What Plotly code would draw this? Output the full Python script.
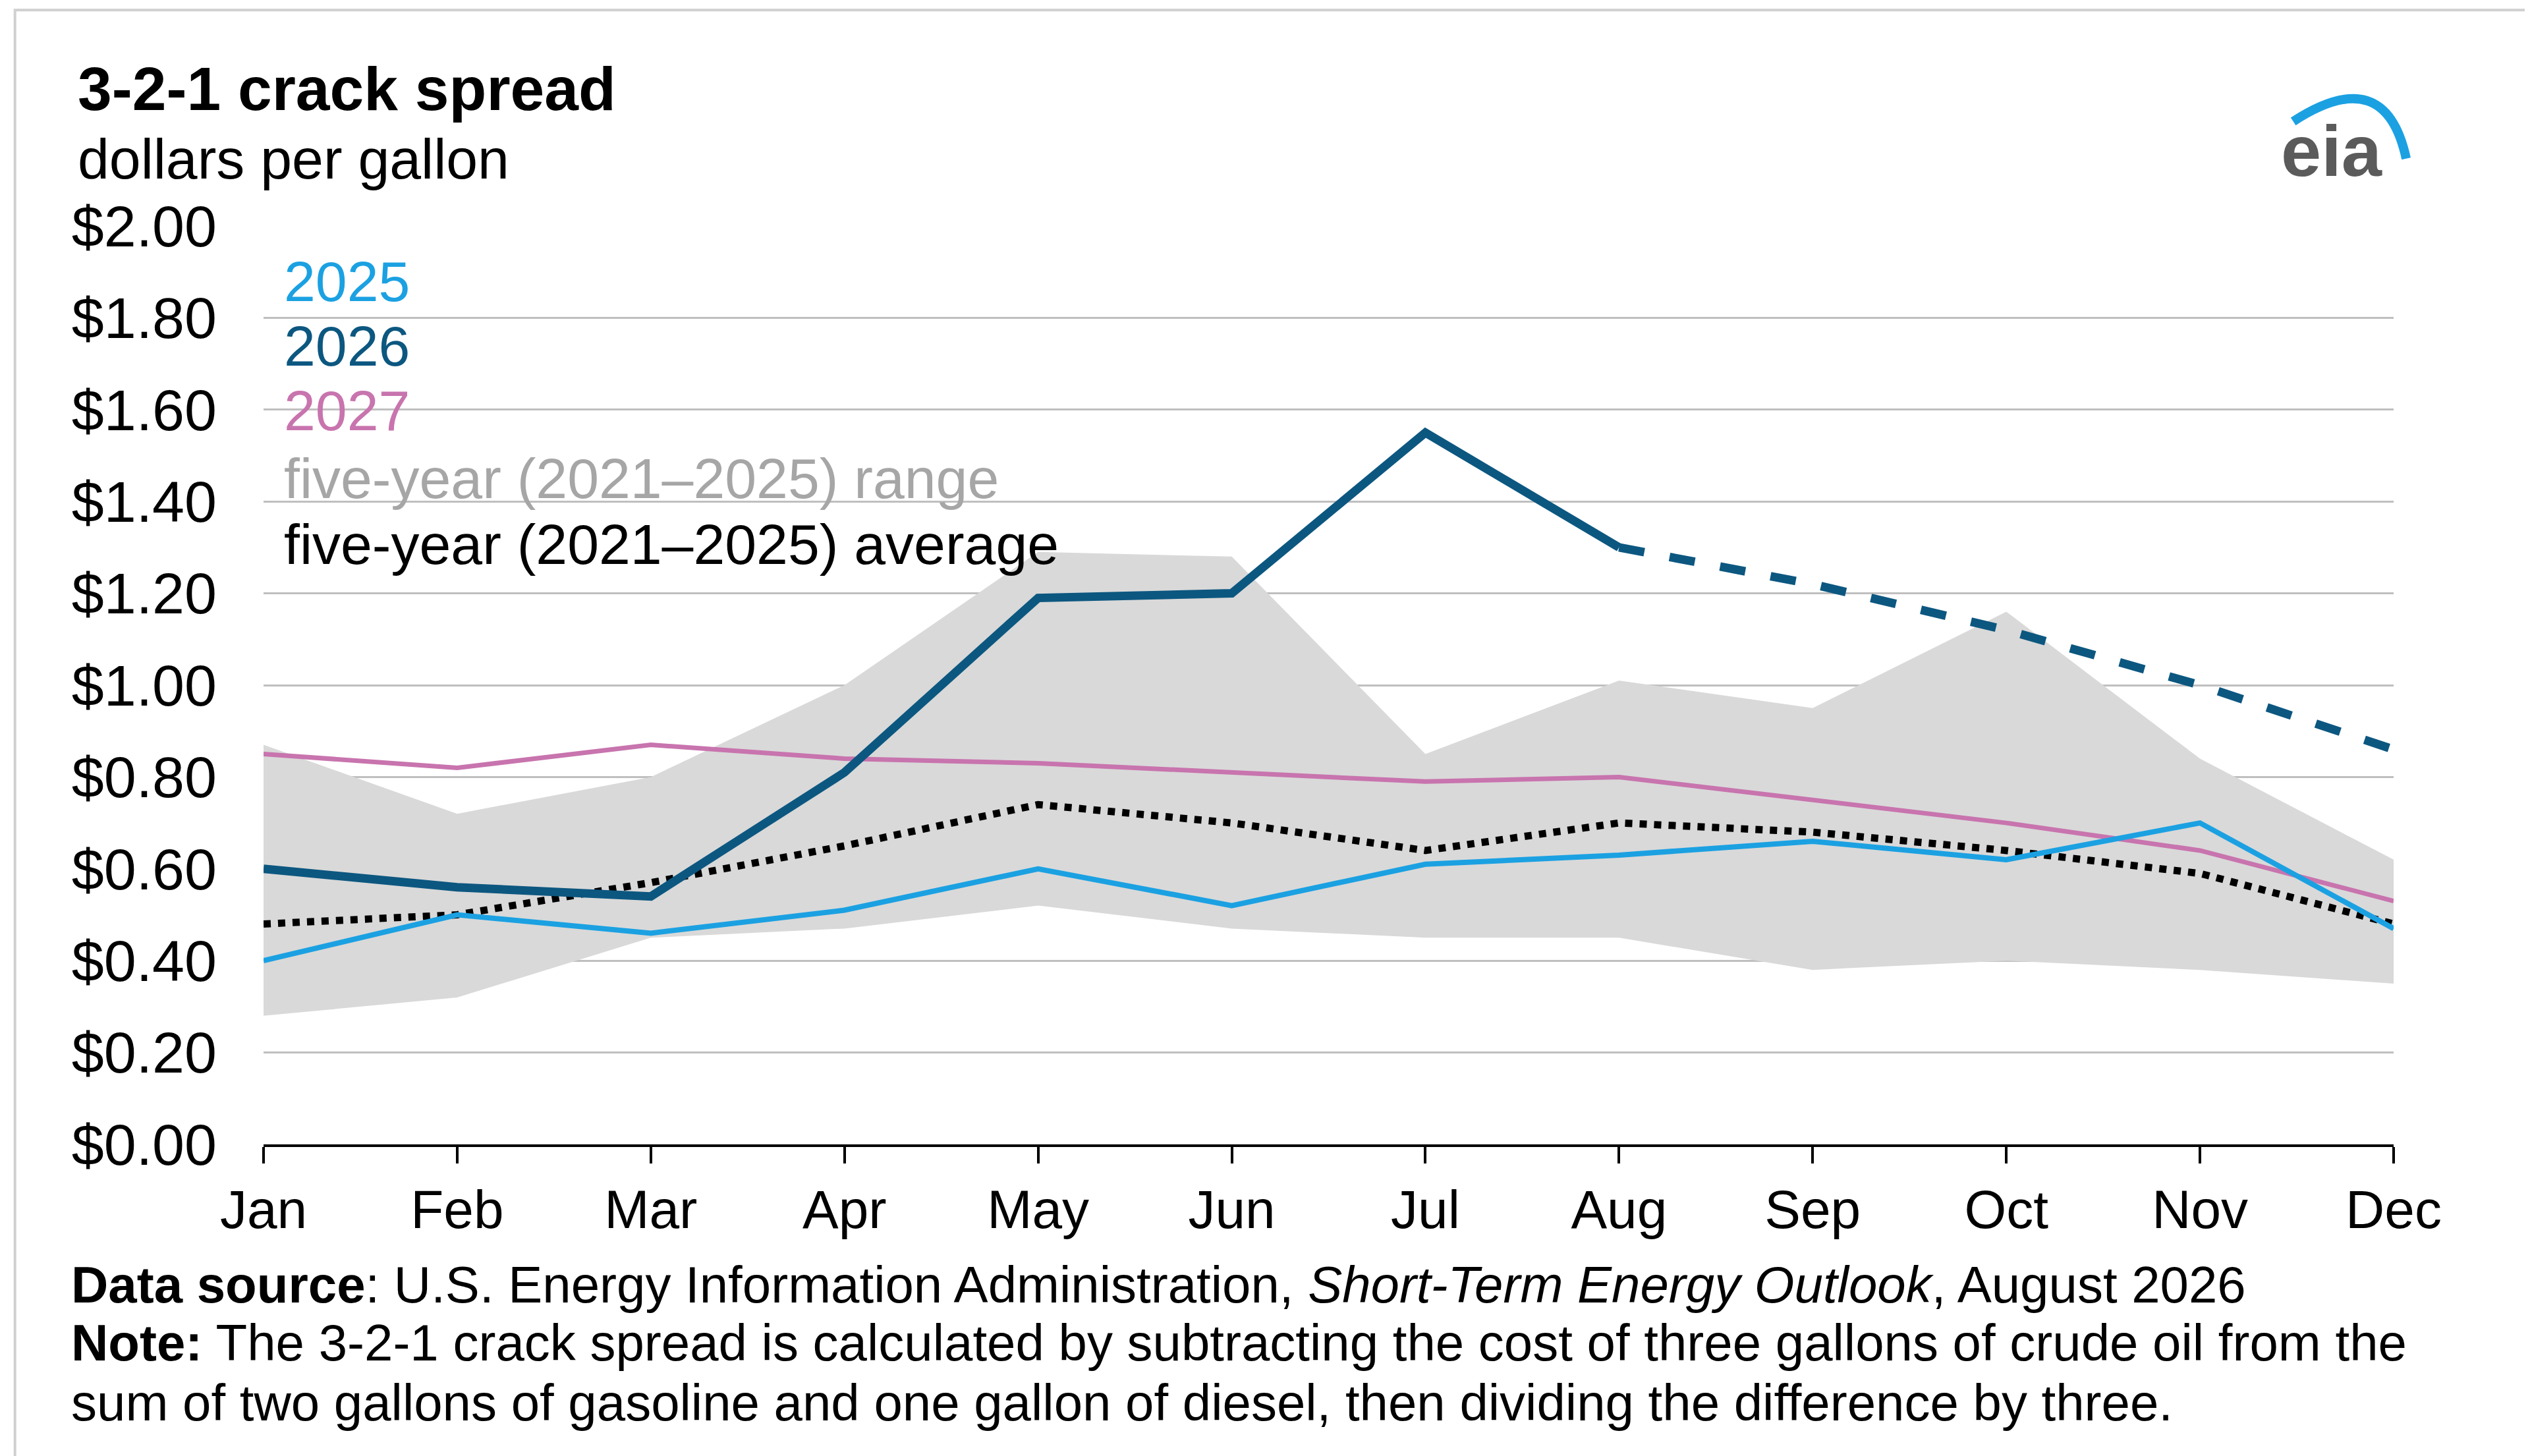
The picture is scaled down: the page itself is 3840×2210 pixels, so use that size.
import plotly.graph_objects as go

months = ["Jan", "Feb", "Mar", "Apr", "May", "Jun", "Jul", "Aug", "Sep", "Oct", "Nov", "Dec"]
y2025 = [0.40, 0.50, 0.46, 0.51, 0.60, 0.52, 0.61, 0.63, 0.66, 0.62, 0.70, 0.47]
y2026_hist = [0.60, 0.56, 0.54, 0.81, 1.19, 1.20, 1.55, 1.30]
y2026_fcst = [1.30, 1.22, 1.12, 1.00, 0.86]
y2027 = [0.85, 0.82, 0.87, 0.84, 0.83, 0.81, 0.79, 0.80, 0.75, 0.70, 0.64, 0.53]
range_hi = [0.87, 0.72, 0.80, 1.00, 1.29, 1.28, 0.85, 1.01, 0.95, 1.16, 0.84, 0.62]
range_lo = [0.28, 0.32, 0.45, 0.47, 0.52, 0.47, 0.45, 0.45, 0.38, 0.40, 0.38, 0.35]
avg5 = [0.48, 0.50, 0.57, 0.65, 0.74, 0.70, 0.64, 0.70, 0.68, 0.64, 0.59, 0.48]
yticks = [0, 0.2, 0.4, 0.6, 0.8, 1.0, 1.2, 1.4, 1.6, 1.8, 2.0]

W, H = 3840, 2210
L, R, T, B = 392, 3625, 335, 1729
S = 3840 / 1568  # reference display scale

def px(x):
    return (x * S - L) / (R - L)

def py(y):
    return (B - y * S) / (B - T)

FONT = "Liberation Sans, Arial"
c25, c26, c27 = "#1ba1e2", "#0c5780", "#c874ae"
x = list(range(12))

fig = go.Figure()
fig.add_trace(go.Scatter(x=x, y=range_lo, mode="lines", line=dict(width=0), hoverinfo="skip"))
fig.add_trace(go.Scatter(x=x, y=range_hi, mode="lines", line=dict(width=0), fill="tonexty",
                         fillcolor="#d9d9d9"))
fig.add_trace(go.Scatter(x=x, y=y2027, mode="lines", line=dict(color=c27, width=7)))
fig.add_trace(go.Scatter(x=x, y=avg5, mode="lines", line=dict(color="black", width=11, dash="dot")))
fig.add_trace(go.Scatter(x=x, y=y2025, mode="lines", line=dict(color=c25, width=8)))
fig.add_trace(go.Scatter(x=x[:8], y=y2026_hist, mode="lines", line=dict(color=c26, width=13)))
fig.add_trace(go.Scatter(x=x[7:], y=y2026_fcst, mode="lines",
                         line=dict(color=c26, width=13, dash="dash")))

ann = []
def txt(xd, yd, s, size, color="black", anchor="left"):
    ann.append(dict(x=px(xd), y=py(yd), xref="paper", yref="paper", text=s, showarrow=False,
                    xanchor=anchor, yanchor="middle", font=dict(size=size, color=color, family=FONT)))

txt(44, 52, "<b>3-2-1 crack spread</b>", 93)
txt(44, 95, "dollars per gallon", 86)
txt(172, 171, "2025", 86, c25)
txt(172, 211, "2026", 86, c26)
txt(172, 251, "2027", 86, c27)
txt(172, 293, "five-year (2021\u20132025) range", 86, "#a6a6a6")
txt(172, 334, "five-year (2021\u20132025) average", 86, "black")
txt(40, 793, "<b>Data source</b>: U.S. Energy Information Administration, <i>Short-Term Energy Outlook</i>, August 2026", 78)
txt(40, 829, "<b>Note:</b> The 3-2-1 crack spread is calculated by subtracting the cost of three gallons of crude oil from the", 78)
txt(40, 866, "sum of two gallons of gasoline and one gallon of diesel, then dividing the difference by three.", 78)
txt(1442, 90, "<b>eia</b>", 110, "#5b5b5b", "center")

fig.update_layout(
    width=W, height=H, margin=dict(l=L, r=W - R, t=T, b=H - B),
    plot_bgcolor="white", paper_bgcolor="white", showlegend=False,
    annotations=ann,
    xaxis=dict(range=[0, 11], tickvals=x, ticktext=months, showgrid=False, showline=True,
               linecolor="black", linewidth=4, ticks="outside", ticklen=25, tickwidth=4,
               tickcolor="black", tickfont=dict(size=82, family=FONT, color="black"), zeroline=False),
    yaxis=dict(range=[0, 2.0], tickvals=yticks, ticktext=["$%.2f" % v for v in yticks],
               showgrid=True, gridcolor="#bfbfbf", gridwidth=3, zeroline=False,
               tickfont=dict(size=88, family=FONT, color="black"), ticklabelstandoff=70),
    shapes=[
        dict(type="rect", xref="paper", yref="paper", x0=px(6), x1=px(1563), y0=py(3), y1=py(900),
             line=dict(color="#d0d0d0", width=4)),
        dict(type="path", xref="paper", yref="paper",
             path="M %f %f Q %f %f %f %f" % (px(1418), py(72), px(1475), py(35), px(1488), py(95)),
             line=dict(color="#1ba1e2", width=14)),
    ],
)
fig.write_html("out.html")
